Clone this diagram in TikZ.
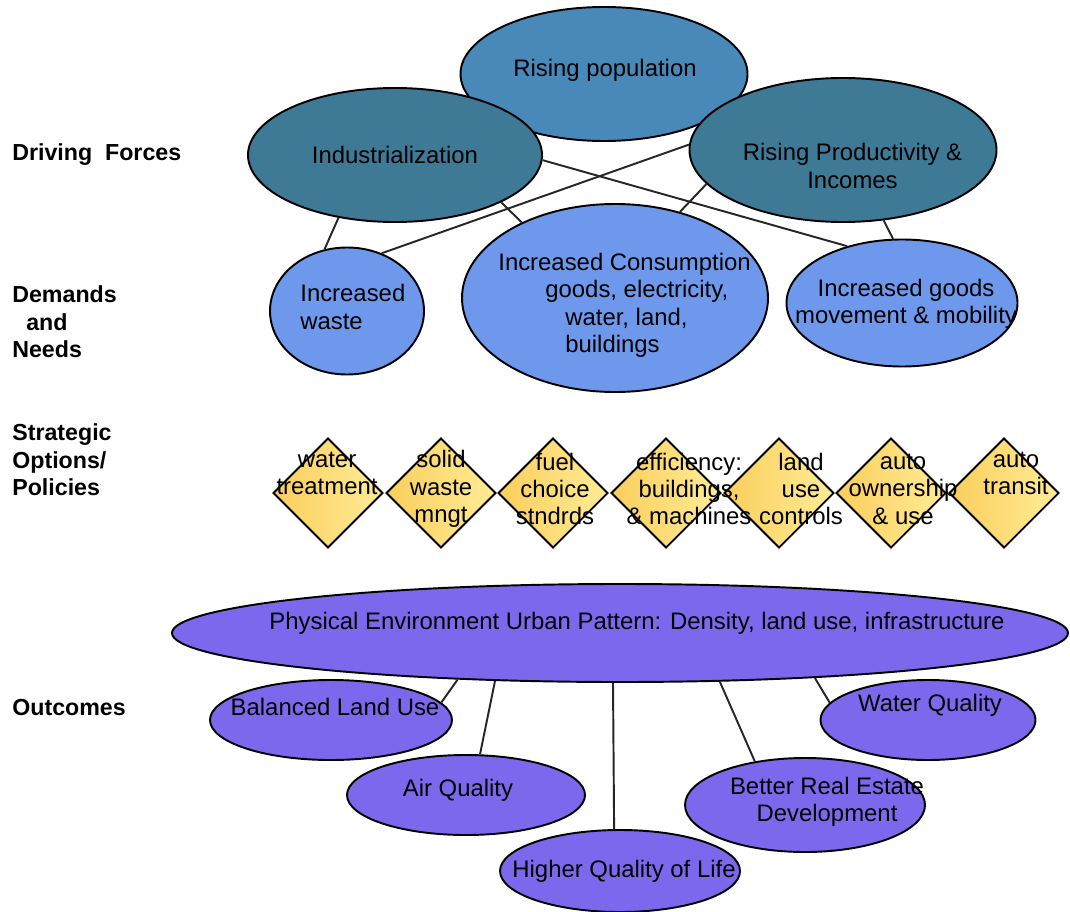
\documentclass[tikz,border=0pt]{standalone}
\usepackage{fontspec}
\setmainfont{Liberation Sans}
\usepackage{xcolor}
\definecolor{forceTeal}{RGB}{62,122,150}
\definecolor{popBlue}{RGB}{72,137,186}
\definecolor{needBlue}{RGB}{110,152,236}
\definecolor{policyGold}{RGB}{250,206,92}
\definecolor{policyLight}{RGB}{255,236,150}
\definecolor{outcomeViolet}{RGB}{124,104,236}
\usepackage{tikz}
\usetikzlibrary{shapes.geometric}
\tikzstyle{force}=[ellipse, draw, line width=1.1pt, fill=forceTeal, inner sep=0pt]
\tikzstyle{need}=[ellipse, draw, line width=1.1pt, fill=needBlue, inner sep=0pt]
\tikzstyle{policy}=[diamond, draw, line width=1.1pt, left color=policyGold, right color=policyLight, inner sep=0pt, minimum width=2.2cm, minimum height=2.2cm]
\tikzstyle{outcome}=[ellipse, draw, line width=1.1pt, fill=outcomeViolet, inner sep=0pt]
\tikzstyle{txt}=[inner sep=0pt, align=center, font=\fontsize{13.6}{15.6}\selectfont, text=black]
\tikzstyle{rowlabel}=[anchor=west, inner sep=0pt, align=left, font=\fontsize{13.2}{15.6}\selectfont\bfseries]
\tikzstyle{link}=[line width=1.1pt, black!85]

\begin{document}
\begin{tikzpicture}
    \useasboundingbox (0,0) rectangle (21.4,-18.22);

    % Row labels
    \node[rowlabel] (lab1) at (0.24,-3.1) {Driving\ \ Forces};
    \node[rowlabel] (lab2) at (0.24,-6.44) {Demands\\\hspace*{0.28cm}and\\Needs};
    \node[rowlabel] (lab3) at (0.24,-9.2) {Strategic\\Options/\\Policies};
    \node[rowlabel] (lab4) at (0.24,-14.16) {Outcomes};

    % Driving forces
    \node[force, fill=popBlue, minimum width=5.74cm, minimum height=2.68cm] (pop) at (12.08,-1.48) {};
    \node[force, minimum width=5.88cm, minimum height=2.68cm] (ind) at (7.9,-3.1) {};
    \node[force, minimum width=6.14cm, minimum height=2.88cm] (prod) at (16.86,-3.0) {};
    \node[txt] (pop-t) at (12.1,-1.4) {Rising population};
    \node[txt] (ind-t) at (7.9,-3.1) {Industrialization};
    \node[txt] (prod-t) at (17.05,-3.32) {Rising Productivity \&\\Incomes};

    % Demands and needs
    \node[need, minimum width=3.08cm, minimum height=2.54cm] (waste) at (6.94,-6.22) {};
    \node[need, minimum width=6.12cm, minimum height=3.76cm] (cons) at (12.3,-5.96) {};
    \node[need, minimum width=4.62cm, minimum height=2.54cm] (goods) at (18.04,-6.06) {};
    \node[txt, align=left, anchor=west] (waste-t) at (6.0,-6.14) {Increased\\waste};
    \node[txt, align=left, anchor=west] (cons-t) at (9.96,-6.11)
      {Increased Consumption\\\hspace*{0.94cm}goods, electricity,\\\hspace*{1.34cm}water, land,\\\hspace*{1.34cm}buildings};
    \node[txt] (goods-t) at (18.12,-6.08) {Increased goods\\movement \& mobility};

    % Links forces -> needs
    \draw[link] (ind.-132) -- (waste.110);
    \draw[link] (ind.-24) -- (cons.141);
    \draw[link] (ind.-2) -- (goods.134);
    \draw[link] (prod.178) -- (waste.59);
    \draw[link] (prod.-166) -- (cons.53);
    \draw[link] (prod.-60) -- (goods.98);

    % Strategic options / policies
    \foreach \x/\n in {6.56/1,8.82/2,11.06/3,13.32/4,15.58/5,17.82/6,20.08/7} {
      \node[policy] (pol\n) at (\x,-9.86) {};
    }
    \node[txt] (pol1-t) at (6.54,-9.47) {water\\treatment};
    \node[txt] (pol2-t) at (8.82,-9.78) {solid\\waste\\mngt};
    \node[txt] (pol3-t) at (11.1,-9.78) {fuel\\choice\\stndrds};
    \node[txt] (pol4-t) at (13.78,-9.78) {efficiency:\\buildings,\\\& machines};
    \node[txt] (pol5-t) at (16.02,-9.78) {land\\use\\controls};
    \node[txt] (pol6-t) at (18.06,-9.78) {auto\\ownership\\\& use};
    \node[txt] (pol7-t) at (20.32,-9.47) {auto\\transit};

    % Outcomes
    \node[outcome, minimum width=17.92cm, minimum height=1.96cm] (env) at (12.4,-12.66) {};
    \node[txt] (env-t) at (12.74,-12.46) {Physical Environment Urban Pattern: Density, land use, infrastructure};
    \node[outcome, minimum width=4.84cm, minimum height=1.6cm] (bal) at (6.62,-14.4) {};
    \node[outcome, minimum width=4.76cm, minimum height=1.6cm] (air) at (9.32,-15.9) {};
    \node[outcome, minimum width=4.8cm, minimum height=1.64cm] (hql) at (12.4,-17.42) {};
    \node[outcome, minimum width=4.8cm, minimum height=1.88cm] (bre) at (16.1,-16.1) {};
    \node[outcome, minimum width=4.3cm, minimum height=1.6cm] (wq) at (18.56,-14.4) {};
    \node[txt] (bal-t) at (6.7,-14.14) {Balanced Land Use};
    \node[txt] (air-t) at (9.16,-15.8) {Air Quality};
    \node[txt] (hql-t) at (12.48,-17.42) {Higher Quality of Life};
    \node[txt] (bre-t) at (16.54,-16.04) {Better Real Estate\\Development};
    \node[txt] (wq-t) at (18.6,-14.1) {Water Quality};

    % Links pattern -> outcomes
    \draw[link] (env.-164) -- (bal.9);
    \draw[link] (env.-159) -- (air.71);
    \draw[link] (env.-98) -- (hql.98);
    \draw[link] (env.-26) -- (bre.139);
    \draw[link] (env.-13) -- (wq.170);
\end{tikzpicture}
\end{document}
